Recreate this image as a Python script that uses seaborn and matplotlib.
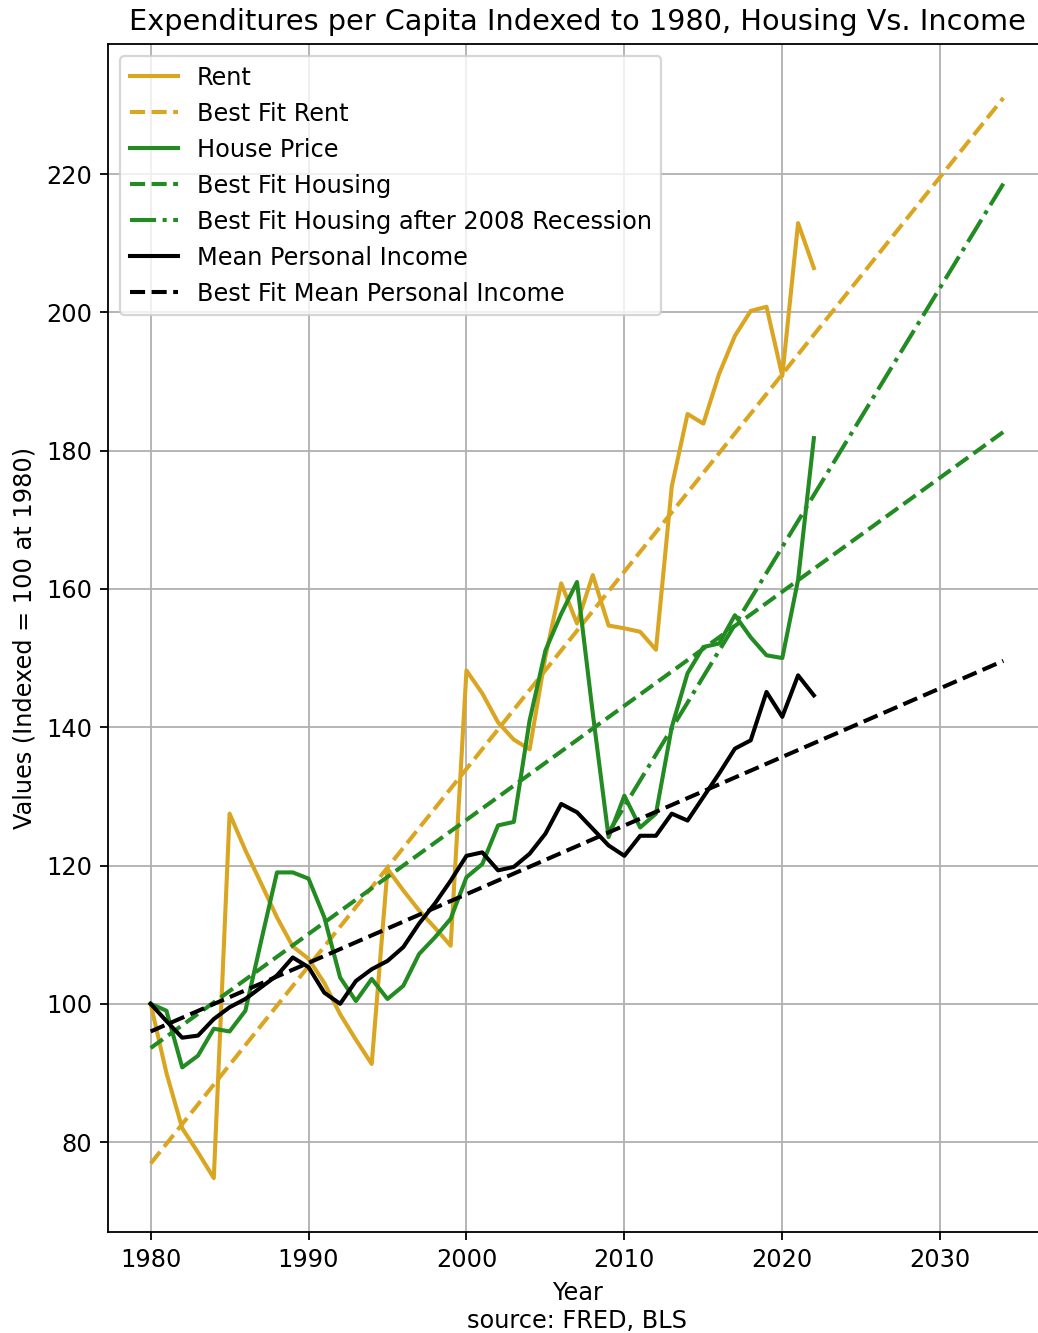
import numpy as np
import pandas as pd
import matplotlib
matplotlib.use("Agg")
import matplotlib.pyplot as plt
import seaborn as sns

# ---- data ----
years = list(range(1980, 2023))
rent = [100, 90, 82, 78.5, 74.8, 127.5, 122.2, 117.4, 112.5, 108.3,
        106.5, 103, 98.5, 94.8, 91.3, 119.5, 116.4, 113.5, 111, 108.4,
        148.2, 144.9, 140.7, 138.2, 136.8, 150.2, 160.8, 155, 162, 154.7,
        154.3, 153.8, 151.2, 174.8, 185.3, 183.9, 191.1, 196.6, 200.2, 200.8,
        190.8, 212.9, 206.4]
house = [100, 99, 90.8, 92.5, 96.4, 96, 99, 109.1, 119, 119,
         118.1, 112.5, 103.8, 100.4, 103.6, 100.7, 102.6, 107.2, 109.6, 112.3,
         118.3, 120.2, 125.8, 126.3, 141, 151.1, 156.4, 161, 142, 124.1,
         130.1, 125.5, 127.5, 140, 147.8, 151.6, 152.1, 156.2, 153, 150.4,
         150, 161.3, 181.8]
income = [100, 97.5, 95.1, 95.4, 97.8, 99.5, 100.7, 102.4, 104.1, 106.7,
          105.3, 101.6, 100, 103.3, 105, 106.2, 108.2, 111.6, 114.5, 117.8,
          121.4, 121.9, 119.3, 119.8, 121.7, 124.6, 128.9, 127.7, 125.3, 122.9,
          121.4, 124.3, 124.3, 127.5, 126.5, 129.9, 133.3, 136.9, 138.1, 145.1,
          141.5, 147.5, 144.6]

fit_years = [1980, 2034]
rent_fit = [76.9, 231.0]
house_fit = [93.6, 182.7]
income_fit = [96.0, 149.6]
post_years = [2009, 2034]
house_post_fit = [124.8, 218.6]

GOLD = "#DAA520"
GREEN = "#228B22"

plt.rcParams["font.size"] = 10.6
plt.rcParams["axes.titlesize"] = 12.7
plt.rcParams["lines.linewidth"] = 1.8

DPI = 163
fig = plt.figure(figsize=(1038 / DPI, 1333 / DPI), dpi=DPI)
ax = fig.add_axes([108 / 1038, 101 / 1333, 938 / 1038, 1188 / 1333])

sns.lineplot(x=years, y=rent, ax=ax, color=GOLD, label="Rent", errorbar=None)
sns.lineplot(x=fit_years, y=rent_fit, ax=ax, color=GOLD, linestyle="--",
             label="Best Fit Rent", errorbar=None)
sns.lineplot(x=years, y=house, ax=ax, color=GREEN, label="House Price", errorbar=None)
sns.lineplot(x=fit_years, y=house_fit, ax=ax, color=GREEN, linestyle="--",
             label="Best Fit Housing", errorbar=None)
sns.lineplot(x=post_years, y=house_post_fit, ax=ax, color=GREEN, linestyle="-.",
             label="Best Fit Housing after 2008 Recession", errorbar=None)
sns.lineplot(x=years, y=income, ax=ax, color="black", label="Mean Personal Income",
             errorbar=None)
sns.lineplot(x=fit_years, y=income_fit, ax=ax, color="black", linestyle="--",
             label="Best Fit Mean Personal Income", errorbar=None)

ax.set_xlim(1977.3, 2036.7)
ax.set_ylim(67.0, 238.8)
ax.set_xticks([1980, 1990, 2000, 2010, 2020, 2030])
ax.set_yticks([80, 100, 120, 140, 160, 180, 200, 220])
ax.grid(True)
ax.set_title("Expenditures per Capita Indexed to 1980, Housing Vs. Income")
ax.set_xlabel("Year\nsource: FRED, BLS")
ax.set_ylabel("Values (Indexed = 100 at 1980)")
ax.legend(loc="upper left")

fig.savefig("out.png", dpi=DPI)
